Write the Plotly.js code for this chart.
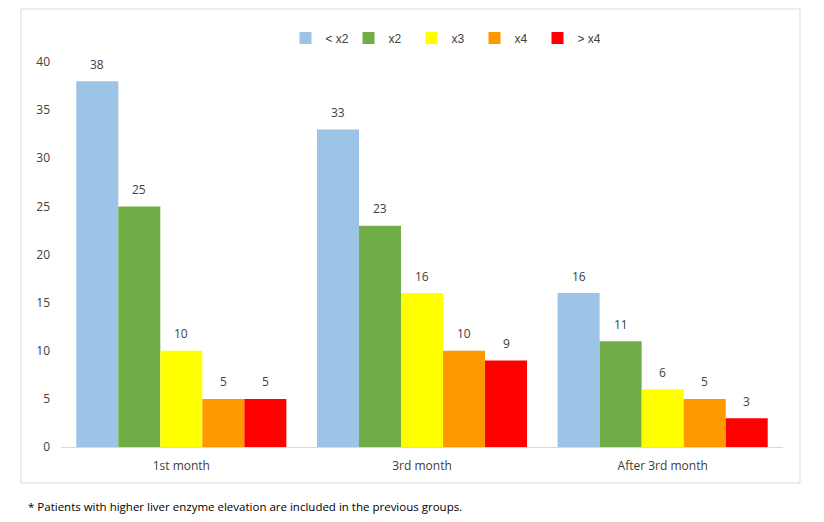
<!DOCTYPE html>
<html>
<head>
<meta charset="utf-8">
<script src="https://cdn.plot.ly/plotly-3.0.1.min.js"></script>
<style>html,body{margin:0;padding:0;background:#fff;}#chart{width:824px;height:522px;}</style>
</head>
<body>
<div id="chart"></div>
<script>
const categories = ["1st month", "3rd month", "After 3rd month"];
const seriesNames = ["< x2", "x2", "x3", "x4", "> x4"];
const seriesLt2 = [38, 33, 16];
const seriesX2 = [25, 23, 11];
const seriesX3 = [10, 16, 6];
const seriesX4 = [5, 10, 5];
const seriesGt4 = [5, 9, 3];
const yTicks = [0, 5, 10, 15, 20, 25, 30, 35, 40];
const footnote = "* Patients with higher liver enzyme elevation are included in the previous groups.";

const allSeries = [seriesLt2, seriesX2, seriesX3, seriesX4, seriesGt4];
const colors = ["#9DC3E6", "#70AD47", "#FFFF00", "#FF9900", "#FF0000"];
const txtFont = {family: "Open Sans, Noto Sans, sans-serif", size: 12, color: "#404040"};
const BARGAP = 0.127;

const traces = allSeries.map((vals, i) => ({
  type: "bar",
  name: seriesNames[i],
  x: categories,
  y: vals,
  marker: {color: colors[i]},
  hoverinfo: "skip"
}));

const L = 61, R = 783, T = 62, B = 447;
const W = R - L, H = B - T;
const px = v => (v - L) / W;
const py = v => (B - v) / H;

// data labels placed through the axes: category index + grouped bar offset
const barW = (1 - BARGAP) / allSeries.length;
const labelAnns = [];
allSeries.forEach((vals, j) => {
  vals.forEach((v, i) => {
    labelAnns.push({
      xref: "x", yref: "y",
      x: i + (j - (allSeries.length - 1) / 2) * barW, y: v,
      text: String(v), showarrow: false,
      xanchor: "center", yanchor: "middle", yshift: 17,
      font: txtFont
    });
  });
});

const layout = {
  width: 824, height: 522,
  margin: {l: L, r: 824 - R, t: T, b: 522 - B, pad: 0},
  paper_bgcolor: "#fff", plot_bgcolor: "#fff",
  barmode: "group", bargap: BARGAP, bargroupgap: 0,
  showlegend: true,
  legend: {
    orientation: "h", x: px(443), xanchor: "center", y: py(38), yanchor: "middle",
    font: {family: "Liberation Sans, Arial, sans-serif", size: 12, color: "#404040"},
    itemwidth: 30, entrywidth: 18, entrywidthmode: "pixels", traceorder: "normal"
  },
  xaxis: {
    type: "category", showgrid: false, zeroline: false,
    showline: true, linecolor: "#d9d9d9", linewidth: 1,
    ticks: "", tickfont: txtFont, ticklabelstandoff: 8, fixedrange: true
  },
  yaxis: {
    range: [0, 40], tickvals: yTicks, ticktext: yTicks.map(String),
    showgrid: false, zeroline: false, showline: false, ticks: "",
    tickfont: txtFont, ticklabelstandoff: 10, fixedrange: true
  },
  shapes: [{
    type: "rect", xref: "paper", yref: "paper",
    x0: px(21), x1: px(800), y0: py(483), y1: py(9),
    line: {color: "#d9d9d9", width: 1}, fillcolor: "rgba(0,0,0,0)", layer: "below"
  }],
  annotations: labelAnns.concat([{
    xref: "paper", yref: "paper", x: px(26), y: py(506),
    xanchor: "left", yanchor: "middle", showarrow: false,
    text: footnote,
    font: {family: "Open Sans, Noto Sans, sans-serif", size: 11.5, color: "#000"}
  }])
};

Plotly.newPlot("chart", traces, layout, {displayModeBar: false, staticPlot: true});
</script>
</body>
</html>
